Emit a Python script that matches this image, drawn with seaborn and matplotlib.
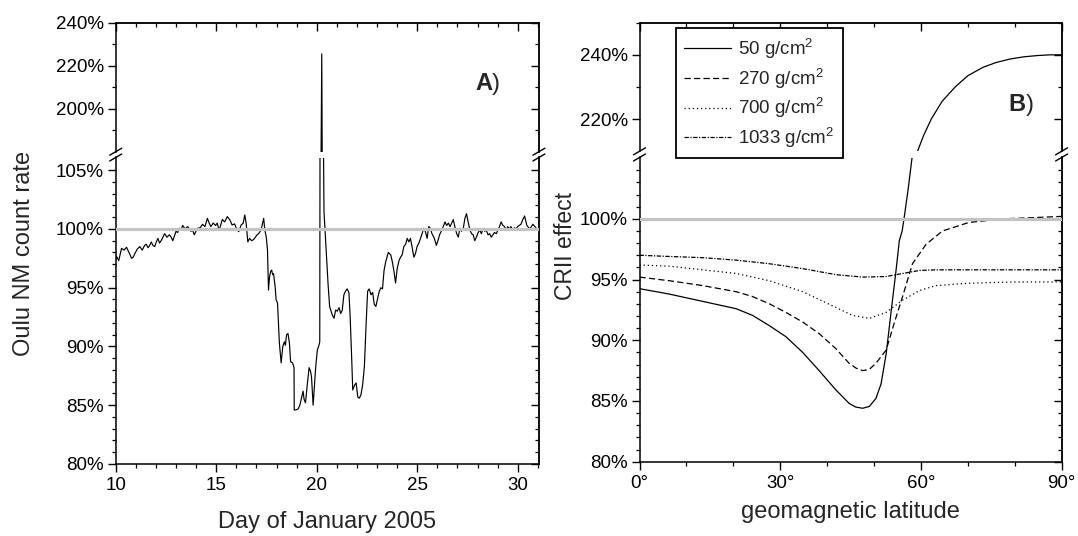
import matplotlib
matplotlib.use("Agg")
import matplotlib.pyplot as plt
from matplotlib.lines import Line2D
from matplotlib.ticker import MultipleLocator, FixedLocator, FuncFormatter
import numpy as np
import pandas as pd
import seaborn as sns

# ---------------- data ----------------
# Oulu neutron monitor count rate, January 2005 (percent of reference level)
day = [
    10.00, 10.05, 10.15, 10.29, 10.42, 10.54, 10.66, 10.79, 10.87, 10.95,
    11.08, 11.20, 11.32, 11.44, 11.52, 11.61, 11.69, 11.77, 11.85, 11.94,
    12.02, 12.10, 12.18, 12.26, 12.35, 12.43, 12.55, 12.67, 12.76, 12.84,
    12.92, 13.00, 13.08, 13.17, 13.25, 13.33, 13.45, 13.58, 13.66, 13.74,
    13.82, 13.91, 13.99, 14.07, 14.20, 14.32, 14.44, 14.56, 14.65, 14.73,
    14.85, 14.97, 15.05, 15.14, 15.22, 15.30, 15.42, 15.55, 15.68, 15.79,
    15.91, 16.04, 16.12, 16.24, 16.34, 16.42, 16.49, 16.57, 16.66, 16.76,
    16.86, 16.95, 17.03, 17.11, 17.19, 17.27, 17.36, 17.42, 17.49, 17.55,
    17.60, 17.65, 17.71, 17.76, 17.81, 17.85, 17.93, 17.98, 18.05, 18.10,
    18.14, 18.23, 18.31, 18.39, 18.44, 18.50, 18.57, 18.64, 18.70, 18.80,
    18.87, 18.88, 18.97, 19.08, 19.16, 19.24, 19.32, 19.37, 19.44, 19.52,
    19.62, 19.69, 19.74, 19.82, 19.95, 20.03, 20.11, 20.15, 20.25, 20.30,
    20.36, 20.47, 20.56, 20.64, 20.77, 20.86, 20.94, 21.02, 21.11, 21.19,
    21.27, 21.35, 21.43, 21.51, 21.60, 21.66, 21.74, 21.79, 21.88, 21.96,
    22.04, 22.12, 22.20, 22.28, 22.37, 22.45, 22.53, 22.61, 22.70, 22.78,
    22.86, 22.94, 23.02, 23.11, 23.19, 23.27, 23.35, 23.43, 23.56, 23.68,
    23.76, 23.84, 23.92, 24.00, 24.09, 24.17, 24.25, 24.33, 24.42, 24.50,
    24.58, 24.66, 24.75, 24.83, 24.91, 24.99, 25.08, 25.16, 25.24, 25.32,
    25.40, 25.49, 25.57, 25.65, 25.73, 25.85, 25.95, 26.01, 26.11, 26.22,
    26.38, 26.46, 26.55, 26.63, 26.71, 26.79, 26.87, 26.96, 27.04, 27.12,
    27.20, 27.29, 27.37, 27.45, 27.53, 27.62, 27.70, 27.78, 27.86, 27.94,
    28.03, 28.11, 28.19, 28.27, 28.35, 28.43, 28.52, 28.60, 28.68, 28.76,
    28.84, 28.93, 29.01, 29.09, 29.17, 29.26, 29.34, 29.42, 29.50, 29.58,
    29.66, 29.75, 29.83, 29.91, 29.99, 30.07, 30.16, 30.25, 30.34, 30.45,
    30.60, 30.75, 30.90, 31.00,
]
count_rate = [
    97.4, 97.65, 97.3, 98.35, 98.2, 98.44, 98.0, 97.5, 97.6, 97.9,
    98.3, 98.5, 98.2, 98.6, 98.7, 98.4, 98.6, 98.9, 98.6, 98.5,
    98.9, 99.2, 98.8, 99.0, 99.3, 99.6, 99.3, 99.5, 99.3, 99.0,
    99.4, 99.8, 99.7, 100.06, 99.9, 100.3, 100.0, 100.2, 100.0, 99.8,
    99.9, 99.5, 99.8, 100.06, 100.1, 100.4, 100.2, 100.9, 100.5, 100.2,
    100.5, 100.3, 100.5, 99.9, 100.3, 100.8, 100.6, 101.05, 100.77, 100.34,
    100.43, 99.92, 99.77, 100.34, 100.48, 101.19, 100.48, 98.9, 99.2, 99.0,
    99.1, 99.3, 99.5, 99.6, 99.8, 100.2, 100.9, 99.9, 99.3, 98.2,
    94.8, 95.9, 96.4, 96.5, 96.1, 96.2, 95.1, 93.96, 93.7, 91.7,
    90.3, 88.6, 90.0, 90.4, 90.1, 91.0, 91.1, 90.3, 88.7, 88.6,
    88.2, 84.6, 84.6, 84.7, 85.0, 85.6, 86.2, 85.5, 85.2, 86.6,
    88.2, 87.9, 87.4, 85.0, 88.3, 89.7, 90.1, 90.4, 225.5, 115.0,
    101.5, 98.2, 95.4, 93.4, 92.7, 92.4, 93.1, 93.0, 93.3, 92.8,
    93.1, 94.4, 94.7, 94.9, 94.6, 92.6, 88.9, 86.3, 86.7, 86.9,
    85.7, 85.6, 85.9, 86.7, 88.3, 91.7, 94.7, 94.9, 94.4, 94.6,
    93.6, 93.4, 94.0, 94.7, 95.0, 94.9, 96.5, 97.2, 98.0, 97.8,
    97.2, 96.4, 95.4, 96.6, 97.3, 97.6, 97.8, 98.5, 98.7, 99.2,
    98.9, 99.2, 98.4, 97.6, 97.9, 98.5, 98.8, 99.2, 99.6, 100.06,
    99.8, 99.2, 100.2, 100.06, 99.6, 99.2, 98.6, 98.9, 99.5, 99.9,
    100.6, 100.3, 100.5, 100.2, 100.5, 100.8, 100.2, 99.6, 99.3, 100.06,
    99.8, 100.06, 100.9, 101.3, 100.6, 99.9, 99.6, 99.5, 99.0, 99.3,
    99.7, 99.9, 99.6, 100.06, 99.8, 99.9, 99.5, 99.6, 99.3, 99.5,
    99.7, 99.6, 99.9, 100.2, 100.6, 100.3, 100.2, 99.9, 100.2, 100.0,
    100.2, 99.9, 100.1, 100.0, 100.2, 100.3, 100.4, 100.8, 101.1, 100.3,
    100.0, 100.4, 100.1, 99.9,
]

# CRII effect versus geomagnetic latitude for four atmospheric depths
lat_50 = [0, 6.4, 13.5, 20.6, 24.1, 27.7, 31.2, 34.8, 38.3, 41.9, 44.7, 46.1,
          47.6, 49.0, 50.4, 51.5, 52.6, 53.6, 54.7, 55.4, 56.0, 56.4, 57.3,
          58.1, 59.3, 60.6, 62.2, 64.5, 67.3, 70.0, 73.2, 76.0, 79.0, 82.0,
          85.0, 87.5, 90.0]
eff_50 = [94.25, 93.8, 93.2, 92.6, 92.05, 91.2, 90.3, 89.0, 87.5, 85.9, 84.8, 84.5,
          84.4, 84.55, 85.2, 86.4, 88.9, 92.2, 95.75, 98.2, 99.0, 100.0, 102.5,
          105.0, 210.1, 215.0, 220.0, 225.5, 230.0, 233.5, 236.1, 237.6, 238.7,
          239.4, 239.8, 240.0, 240.0]

lat_270 = [0, 6.4, 13.5, 20.6, 24.1, 27.7, 31.2, 34.8, 38.3, 41.9, 44.7, 46.2,
           47.6, 49.0, 50.4, 52.6, 54.3, 56.1, 58.2, 61.1, 64.6, 70.2, 77.6,
           84.0, 90.0]
eff_270 = [95.2, 94.9, 94.5, 94.0, 93.6, 93.0, 92.3, 91.5, 90.55, 89.3, 88.1, 87.7,
           87.5, 87.6, 88.1, 89.2, 91.4, 93.6, 96.3, 97.9, 99.0, 99.7, 100.0,
           100.1, 100.2]

lat_700 = [0, 6.4, 13.5, 20.6, 27.7, 34.8, 41.9, 45.4, 49.0, 52.6, 54.7, 56.1,
           59.7, 63.2, 70.3, 80.0, 90.0]
eff_700 = [96.2, 96.1, 95.8, 95.5, 94.9, 94.0, 92.7, 92.05, 91.8, 92.3, 92.9, 93.3,
           94.1, 94.5, 94.7, 94.8, 94.8]

lat_1033 = [0, 6.4, 13.5, 20.6, 27.7, 34.8, 41.9, 47.6, 52.6, 56.1, 59.7, 63.2,
            75.0, 90.0]
eff_1033 = [97.0, 96.9, 96.8, 96.6, 96.3, 95.9, 95.4, 95.2, 95.25, 95.5, 95.75, 95.8,
            95.8, 95.8]

depth_labels = ["50 g/cm$^{2}$", "270 g/cm$^{2}$", "700 g/cm$^{2}$",
                "1033 g/cm$^{2}$"]

# ---------------- style ----------------
sns.set_theme(style="ticks")
plt.rcParams["font.family"] = ["Liberation Sans", "DejaVu Sans"]
plt.rcParams["mathtext.fontset"] = "custom"
plt.rcParams["mathtext.rm"] = "Liberation Sans"
plt.rcParams["mathtext.it"] = "Liberation Sans:italic"
plt.rcParams["mathtext.bf"] = "Liberation Sans:bold"
plt.rcParams["axes.linewidth"] = 1.1
plt.rcParams["xtick.color"] = "black"
plt.rcParams["ytick.color"] = "black"

W, H = 1078, 536
fig = plt.figure(figsize=(W / 100, H / 100), dpi=100)
fig.patch.set_facecolor("white")

TICK_FS = 13.5
LABEL_FS = 17
GRAY = "#c3c3c3"


def box(left, top, right, bottom):
    return [left / W, 1 - bottom / H, (right - left) / W, (bottom - top) / H]


def pct(v, _pos):
    return f"{v:.0f}%"


def style_part(ax, part, xmaj, xmin, ymaj, ymin, xfmt):
    ax.set_facecolor("white")
    ax.set(xlabel="", ylabel="")
    for s in ax.spines.values():
        s.set_linewidth(1.1)
        s.set_color("black")
    ax.xaxis.set_major_locator(MultipleLocator(xmaj))
    ax.xaxis.set_minor_locator(MultipleLocator(xmin))
    ax.yaxis.set_major_locator(FixedLocator(ymaj))
    ax.yaxis.set_minor_locator(FixedLocator(ymin))
    ax.yaxis.set_major_formatter(FuncFormatter(pct))
    ax.tick_params(axis="y", which="both", left=True, right=False,
                   direction="out", labelsize=TICK_FS, pad=3)
    ax.tick_params(which="major", length=5.5, width=1.0)
    ax.tick_params(which="minor", length=3.0, width=0.9)

    sec = ax.secondary_yaxis("right")
    sec.yaxis.set_major_locator(FixedLocator(ymaj))
    sec.yaxis.set_minor_locator(FixedLocator(ymin))
    sec.tick_params(which="both", direction="in", labelright=False)
    sec.tick_params(which="major", length=5.5, width=1.0)
    sec.tick_params(which="minor", length=3.0, width=0.9)
    sec.spines["right"].set_linewidth(1.1)

    if part == "upper":
        ax.spines["bottom"].set_visible(False)
        ax.tick_params(axis="x", which="both", bottom=False, top=False,
                       labelbottom=False)
        secx = ax.secondary_xaxis("top")
        secx.xaxis.set_major_locator(MultipleLocator(xmaj))
        secx.xaxis.set_minor_locator(MultipleLocator(xmin))
        secx.tick_params(which="both", direction="in", labeltop=False)
        secx.tick_params(which="major", length=5.5, width=1.0)
        secx.tick_params(which="minor", length=3.0, width=0.9)
        secx.spines["top"].set_linewidth(1.1)
    else:
        ax.spines["top"].set_visible(False)
        ax.tick_params(axis="x", which="both", bottom=True, top=False,
                       direction="out", labelsize=TICK_FS, pad=4)
        ax.xaxis.set_major_formatter(xfmt)


def break_marks(ax, edge, w_px, h_px):
    dx, dy = 6.0 / w_px, 3.5 / h_px
    y0 = 0.0 if edge == "bottom" else 1.0
    for x0 in (0.0, 1.0):
        ax.plot([x0 - dx, x0 + dx], [y0 - dy, y0 + dy], transform=ax.transAxes,
                color="black", lw=1.0, clip_on=False, zorder=5)


# ---------------- panel A ----------------
ax_a_up = fig.add_axes(box(115.7, 22.7, 538.9, 151.7))
ax_a_lo = fig.add_axes(box(115.7, 157.5, 538.9, 464.0))

nm = pd.DataFrame({"day": day, "rate": count_rate})
for ax in (ax_a_up, ax_a_lo):
    sns.lineplot(data=nm, x="day", y="rate", ax=ax, color="black", lw=0.85,
                 estimator=None, sort=False)
    ax.set_xlim(10, 31.05)

ax_a_up.set_ylim(180, 240)
ax_a_lo.set_ylim(80, 106.08)
ax_a_lo.axhline(100, color=GRAY, lw=2.3, zorder=4)

int_fmt = FuncFormatter(lambda v, p: f"{v:.0f}")
style_part(ax_a_up, "upper", 5, 1, [200, 220, 240], [190, 210, 230], int_fmt)
style_part(ax_a_lo, "lower", 5, 1, [80, 85, 90, 95, 100, 105],
           [v for v in range(81, 106) if v % 5], int_fmt)
break_marks(ax_a_up, "bottom", 423.2, 129.0)
break_marks(ax_a_lo, "top", 423.2, 306.5)

ta = fig.text(475.2 / W, 1 - 90 / H, "A", fontsize=17, fontweight="bold",
              va="baseline", ha="left")
ax_a_up.annotate(")", xy=(1.0, 0.0), xycoords=ta, fontsize=17, va="bottom",
                 ha="left", annotation_clip=False)

fig.text(24 / W, 1 - 253 / H, "Oulu NM count rate", rotation=90,
         ha="center", va="center", fontsize=LABEL_FS)
fig.text(327.3 / W, 1 - 528 / H, "Day of January 2005", ha="center",
         va="baseline", fontsize=LABEL_FS)

# ---------------- panel B ----------------
ax_b_up = fig.add_axes(box(639.5, 22.7, 1061.6, 151.3))
ax_b_lo = fig.add_axes(box(639.5, 157.5, 1061.6, 461.7))

curves = [
    (lat_50, eff_50, "-"),
    (lat_270, eff_270, (0, (5.0, 2.6))),
    (lat_700, eff_700, (0, (1.0, 2.3))),
    (lat_1033, eff_1033, (0, (3.5, 1.2, 1.0, 1.2))),
]
for ax in (ax_b_up, ax_b_lo):
    for lat, eff, ls in curves:
        sns.lineplot(x=lat, y=eff, ax=ax, color="black", lw=0.9, linestyle=ls,
                     estimator=None, sort=False)
    ax.set_xlim(0, 90)

ax_b_up.set_ylim(210, 250)
ax_b_lo.set_ylim(80, 105.05)
ax_b_lo.axhline(100, color=GRAY, lw=2.3, zorder=4)

deg_fmt = FuncFormatter(lambda v, p: f"{v:.0f}°")
style_part(ax_b_up, "upper", 30, 10, [220, 240], [230, 250], deg_fmt)
style_part(ax_b_lo, "lower", 30, 10, [80, 85, 90, 95, 100],
           [v for v in range(81, 105) if v % 5], deg_fmt)
break_marks(ax_b_up, "bottom", 422.1, 128.6)
break_marks(ax_b_lo, "top", 422.1, 304.2)

tb = fig.text(1008.4 / W, 1 - 111 / H, "B", fontsize=17, fontweight="bold",
              va="baseline", ha="left")
ax_b_up.annotate(")", xy=(1.0, 0.0), xycoords=tb, fontsize=17, va="bottom",
                 ha="left", annotation_clip=False)

fig.text(565 / W, 1 - 246 / H, "CRII effect", rotation=90,
         ha="center", va="center", fontsize=16.5)
fig.text(850.5 / W, 1 - 518 / H, "geomagnetic latitude", ha="center",
         va="baseline", fontsize=LABEL_FS)

handles = [Line2D([], [], color="black", lw=0.9, linestyle=ls)
           for _, _, ls in curves]
leg = fig.legend(handles, depth_labels, loc="upper left",
                 bbox_to_anchor=(675.6 / W, 1 - 28.3 / H), frameon=True,
                 fancybox=False, edgecolor="black", framealpha=1.0,
                 fontsize=13.5, handlelength=2.5, handletextpad=0.4,
                 labelspacing=0.3, borderpad=0.45, borderaxespad=0.0)
leg.get_frame().set_linewidth(1.3)

fig.savefig("out.png", dpi=100, facecolor="white")
